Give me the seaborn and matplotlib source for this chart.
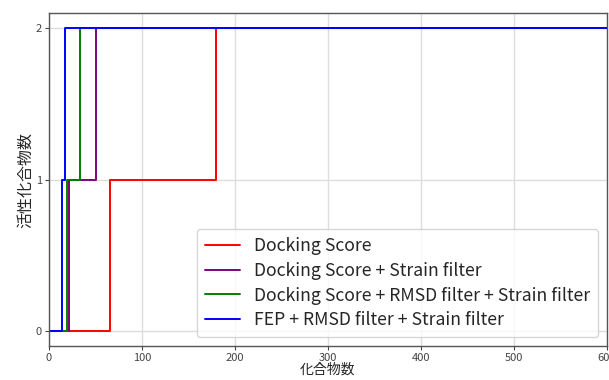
import matplotlib
matplotlib.use("Agg")
import matplotlib.pyplot as plt
import seaborn as sns
import pandas as pd

# step breakpoints (number of compounds -> active count)
labels = [
    "Docking Score",
    "Docking Score + Strain filter",
    "Docking Score + RMSD filter + Strain filter",
    "FEP + RMSD filter + Strain filter",
]
colors = ["red", "purple", "green", "blue"]
x_docking = [0, 66, 180, 600]
x_strain = [0, 21, 51, 600]
x_rmsd_strain = [0, 19, 33, 600]
x_fep = [0, 14, 17, 600]
y_steps = [0, 1, 2, 2]

xs = [x_docking, x_strain, x_rmsd_strain, x_fep]
frames = [pd.DataFrame({"x": x, "y": y_steps, "method": lab}) for x, lab in zip(xs, labels)]
df = pd.concat(frames, ignore_index=True)

sns.set_style("ticks")
plt.rcParams['font.family'] = ['Noto Sans CJK JP', 'DejaVu Sans']

fig = plt.figure(figsize=(6.09, 3.80), dpi=100)
ax = fig.add_axes([0.0805, 0.0895, 0.916, 0.876])

sns.lineplot(data=df, x="x", y="y", hue="method", hue_order=labels,
             palette=dict(zip(labels, colors)), estimator=None,
             drawstyle="steps-post", linewidth=1.4, ax=ax)

ax.set_xlim(0, 600)
ax.set_ylim(-0.1, 2.1)
ax.set_yticks([0, 1, 2])
ax.set_xticks([0, 100, 200, 300, 400, 500, 600])
ax.tick_params(labelsize=8, colors="#444444", length=3, pad=2)
ax.grid(True, color="#dddddd", linewidth=1)
for s in ax.spines.values():
    s.set_color("#555555")
    s.set_linewidth(1)
ax.set_xlabel("化合物数", fontsize=10, labelpad=0)
ax.set_ylabel("活性化合物数", fontsize=11.5, labelpad=1)

ax.legend(loc="lower right", fontsize=12.7, frameon=True, labelspacing=0.38,
          borderpad=0.45, handlelength=2.0, framealpha=0.8)

fig.savefig("out.png", dpi=100)
